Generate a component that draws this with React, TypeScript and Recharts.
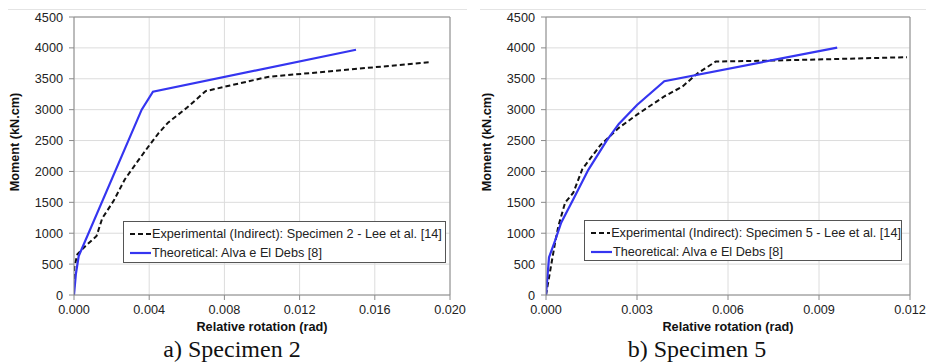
import React from 'react';
import { LineChart, Line, XAxis, YAxis, CartesianGrid, ReferenceLine } from 'recharts';

// moment axis (kN.cm), shared by both panels
const momentTicks = [0, 500, 1000, 1500, 2000, 2500, 3000, 3500, 4000, 4500];

// a) Specimen 2
const rotTicksA = [0, 0.004, 0.008, 0.012, 0.016, 0.02];
const expRotA = [0, 0.00001, 0.00018, 0.0006, 0.0012, 0.0015, 0.0021, 0.0027, 0.0034, 0.004, 0.0045, 0.005, 0.006, 0.007, 0.0103, 0.019];
const expMomA = [0, 440, 660, 790, 955, 1240, 1520, 1870, 2170, 2420, 2620, 2790, 3030, 3300, 3530, 3770];
const theoRotA = [0, 0.0001, 0.00025, 0.0036, 0.0042, 0.015];
const theoMomA = [0, 340, 630, 3000, 3290, 3970];

// b) Specimen 5
const rotTicksB = [0, 0.003, 0.006, 0.009, 0.012];
const expRotB = [0, 0.00013, 0.0003, 0.00041, 0.00063, 0.0009, 0.0012, 0.0018, 0.0024, 0.003, 0.0039, 0.0045, 0.005, 0.0056, 0.007, 0.0092, 0.0119];
const expMomB = [0, 370, 850, 1120, 1495, 1656, 2040, 2430, 2705, 2920, 3215, 3375, 3590, 3780, 3790, 3815, 3850];
const theoRotB = [0, 0.0001, 0.0003, 0.0005, 0.0009, 0.0014, 0.002, 0.0024, 0.003, 0.0039, 0.0096];
const theoMomB = [0, 610, 880, 1170, 1550, 2030, 2500, 2770, 3075, 3460, 4005];

const zip = (xs: number[], ys: number[]) => xs.map((x, i) => ({ x, y: ys[i] }));

const BLUE = '#3535f0';
const FONT = 'Arial, "Liberation Sans", sans-serif';

interface PanelProps {
  left: number;
  width: number;
  yAxisWidth: number;
  plotRight: number; // right edge of plot area, from panel left
  xMax: number;
  xTicks: number[];
  exp: { x: number; y: number }[];
  theo: { x: number; y: number }[];
  expLabel: string;
  legendBox: { left: number; top: number; width: number; height: number };
  caption: string;
  captionCenter: number;
  yTitleX: number;
}

const Panel: React.FC<PanelProps> = (p) => {
  const plotLeft = p.yAxisWidth;
  const plotCenter = (plotLeft + p.plotRight) / 2;
  return (
    <div style={{ position: 'absolute', left: p.left, top: 0, width: p.width, height: 364 }}>
      <LineChart
        width={p.width}
        height={364}
        margin={{ top: 17, right: p.width - p.plotRight, bottom: 49, left: 0 }}
      >
        <CartesianGrid stroke="#dcdcdc" strokeWidth={1} />
        <XAxis
          dataKey="x"
          type="number"
          domain={[0, p.xMax]}
          ticks={p.xTicks}
          tickFormatter={(v: number) => v.toFixed(3)}
          height={20}
          stroke="#8a8a8a"
          tickSize={5}
          tickMargin={5}
          tick={{ fill: '#222', fontSize: 12.7, fontFamily: FONT }}
          allowDataOverflow
        />
        <YAxis
          type="number"
          domain={[0, 4500]}
          ticks={momentTicks}
          width={p.yAxisWidth}
          stroke="#8a8a8a"
          tickSize={5}
          tickMargin={6}
          tick={{ fill: '#222', fontSize: 12.7, fontFamily: FONT }}
        />
        <ReferenceLine y={4500} stroke="#8a8a8a" />
        <ReferenceLine x={p.xMax} stroke="#8a8a8a" />
        <Line
          data={p.exp}
          dataKey="y"
          type="linear"
          stroke="#111"
          strokeWidth={2}
          strokeDasharray="5 3"
          dot={false}
          isAnimationActive={false}
        />
        <Line
          data={p.theo}
          dataKey="y"
          type="linear"
          stroke={BLUE}
          strokeWidth={2.2}
          dot={false}
          isAnimationActive={false}
        />
      </LineChart>

      {/* legend */}
      <div
        style={{
          position: 'absolute',
          left: p.legendBox.left,
          top: p.legendBox.top,
          width: p.legendBox.width,
          height: p.legendBox.height,
          boxSizing: 'border-box',
          border: '1px solid #555',
          background: '#fff',
          fontFamily: FONT,
          fontSize: 12.7,
          color: '#222',
          padding: '2px 0 0 6px',
        }}
      >
        <div style={{ display: 'flex', alignItems: 'center', height: 19, whiteSpace: 'nowrap' }}>
          <svg width={21} height={4} style={{ marginRight: 1 }}>
            <line x1={0} y1={2} x2={21} y2={2} stroke="#111" strokeWidth={2} strokeDasharray="5 3" />
          </svg>
          {p.expLabel}
        </div>
        <div style={{ display: 'flex', alignItems: 'center', height: 19, whiteSpace: 'nowrap' }}>
          <svg width={21} height={4} style={{ marginRight: 1 }}>
            <line x1={0} y1={2} x2={21} y2={2} stroke={BLUE} strokeWidth={2.2} />
          </svg>
          Theoretical: Alva e El Debs [8]
        </div>
      </div>

      {/* y title */}
      <div
        style={{
          position: 'absolute',
          left: p.yTitleX - 60,
          top: 142 - 8,
          width: 120,
          height: 16,
          lineHeight: '16px',
          textAlign: 'center',
          transform: 'rotate(-90deg)',
          fontFamily: FONT,
          fontWeight: 'bold',
          fontSize: 12.7,
          color: '#111',
        }}
      >
        Moment (kN.cm)
      </div>

      {/* x title */}
      <div
        style={{
          position: 'absolute',
          left: plotCenter - 100,
          top: 319,
          width: 200,
          lineHeight: '16px',
          textAlign: 'center',
          fontFamily: FONT,
          fontWeight: 'bold',
          fontSize: 12.7,
          color: '#111',
        }}
      >
        Relative rotation (rad)
      </div>

      {/* caption */}
      <div
        style={{
          position: 'absolute',
          left: p.captionCenter - 120,
          top: 336,
          width: 240,
          lineHeight: '26px',
          textAlign: 'center',
          fontFamily: '"Liberation Serif", "Times New Roman", serif',
          fontSize: 24,
          color: '#111',
        }}
      >
        {p.caption}
      </div>
    </div>
  );
};

const App: React.FC = () => (
  <div style={{ position: 'relative', width: 926, height: 364, background: '#fff', overflow: 'hidden' }}>
    <style>{'body{margin:0}'}</style>
    <div style={{ position: 'absolute', left: 8, top: 9, width: 459, height: 1, background: '#e4e4e4' }} />
    <div style={{ position: 'absolute', left: 480, top: 9, width: 446, height: 1, background: '#e4e4e4' }} />
    <Panel
      left={0}
      width={480}
      yAxisWidth={74}
      plotRight={450}
      xMax={0.02}
      xTicks={rotTicksA}
      exp={zip(expRotA, expMomA)}
      theo={zip(theoRotA, theoMomA)}
      expLabel="Experimental (Indirect): Specimen 2 - Lee et al. [14]"
      legendBox={{ left: 123, top: 221, width: 323, height: 42 }}
      caption="a) Specimen 2"
      captionCenter={232}
      yTitleX={15}
    />
    <Panel
      left={460}
      width={466}
      yAxisWidth={86}
      plotRight={450}
      xMax={0.012}
      xTicks={rotTicksB}
      exp={zip(expRotB, expMomB)}
      theo={zip(theoRotB, theoMomB)}
      expLabel="Experimental (Indirect): Specimen 5 - Lee et al. [14]"
      legendBox={{ left: 124, top: 220, width: 318, height: 41 }}
      caption="b) Specimen 5"
      captionCenter={237}
      yTitleX={27}
    />
  </div>
);

export default App;
